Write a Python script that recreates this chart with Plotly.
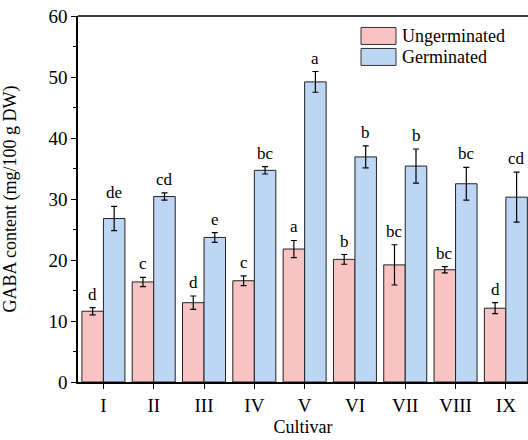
import plotly.graph_objects as go

cultivars = ["I", "II", "III", "IV", "V", "VI", "VII", "VIII", "IX"]
ungerminated = [11.6, 16.4, 13.0, 16.6, 21.8, 20.1, 19.2, 18.4, 12.1]
ungerminated_err = [0.6, 0.75, 1.1, 0.8, 1.4, 0.8, 3.3, 0.5, 0.9]
ungerminated_letters = ["d", "c", "d", "c", "a", "b", "bc", "bc", "d"]
germinated = [26.8, 30.4, 23.7, 34.7, 49.2, 36.9, 35.4, 32.5, 30.3]
germinated_err = [2.0, 0.6, 0.8, 0.6, 1.7, 1.8, 2.8, 2.7, 4.1]
germinated_letters = ["de", "cd", "e", "bc", "a", "b", "b", "bc", "cd"]
y_ticks = [0, 10, 20, 30, 40, 50, 60]

PINK = "#F9C3C3"
BLUE = "#BCD6F4"
FONT = "Liberation Serif"

fig = go.Figure()
fig.add_trace(go.Bar(
    x=cultivars, y=ungerminated, name="Ungerminated",
    marker=dict(color=PINK, line=dict(color="#222222", width=1)),
    error_y=dict(type="data", array=ungerminated_err, color="black", thickness=1.2, width=3),
    showlegend=False,
))
fig.add_trace(go.Bar(
    x=cultivars, y=germinated, name="Germinated",
    marker=dict(color=BLUE, line=dict(color="#222222", width=1)),
    error_y=dict(type="data", array=germinated_err, color="black", thickness=1.2, width=3),
    showlegend=False,
))

annotations = []
offset = 0.2137
for i, c in enumerate(cultivars):
    annotations.append(dict(
        x=i - offset, y=ungerminated[i] + ungerminated_err[i], xref="x", yref="y",
        text=ungerminated_letters[i], showarrow=False, yanchor="bottom", yshift=2,
        font=dict(family=FONT, size=17, color="black"),
    ))
    annotations.append(dict(
        x=i + offset, y=germinated[i] + germinated_err[i], xref="x", yref="y",
        text=germinated_letters[i], showarrow=False, yanchor="bottom", yshift=2,
        font=dict(family=FONT, size=17, color="black"),
    ))

W, H = 528, 440
ml, mr, mt, mb = 78, 0, 15.5, 440 - 382
pw, ph = W - ml - mr, H - mt - mb

def px_to_paper(px, py):
    return (px - ml) / pw, 1 - (py - mt) / ph

# custom legend (boxes + labels in paper coordinates)
legend_items = [("Ungerminated", PINK), ("Germinated", BLUE)]
shapes = [dict(type="line", xref="paper", yref="paper", x0=0, x1=1, y0=1, y1=1,
               line=dict(color="black", width=1.5))]
for k, (label, col) in enumerate(legend_items):
    top = 27 + k * 21
    x0, y0 = px_to_paper(361, top)
    x1, y1 = px_to_paper(396, top + 17)
    shapes.append(dict(type="rect", xref="paper", yref="paper", x0=x0, y0=y1, x1=x1, y1=y0,
                       fillcolor=col, line=dict(color="#333333", width=1)))
    tx, ty = px_to_paper(400, top + 8.5)
    annotations.append(dict(x=tx, y=ty, xref="paper", yref="paper", text=label, showarrow=False,
                            xanchor="left", yanchor="middle",
                            font=dict(family=FONT, size=18, color="black")))

fig.update_layout(
    width=W, height=H,
    margin=dict(l=ml, r=mr, t=mt, b=mb, autoexpand=False),
    paper_bgcolor="white", plot_bgcolor="white",
    barmode="group", bargap=0.145, bargroupgap=0,
    font=dict(family=FONT, size=18, color="black"),
    annotations=annotations, shapes=shapes,
    showlegend=False,
)
fig.update_xaxes(
    range=[-0.505, 8.44], showline=True, linecolor="black", linewidth=1.5,
    ticks="outside", ticklen=5, tickwidth=1.2, tickcolor="black",
    tickfont=dict(family=FONT, size=19),
    title=dict(text="Cultivar", font=dict(family=FONT, size=18), standoff=6),
    showgrid=False,
)
fig.update_yaxes(
    range=[0, 60], tickvals=y_ticks, showline=True, linecolor="black", linewidth=1.5,
    ticks="outside", ticklen=5, tickwidth=1.2, tickcolor="black",
    minor=dict(ticks="outside", ticklen=3, tickcolor="black", dtick=5, tickwidth=1),
    tickfont=dict(family=FONT, size=19), ticklabeloverflow="allow",
    title=dict(text="GABA content (mg/100 g DW)", font=dict(family=FONT, size=18), standoff=27),
    showgrid=False, zeroline=False,
)

fig.write_html(
    "out.html",
    config={"displayModeBar": False},
    post_script="document.body.style.margin='0px';document.body.style.overflow='hidden';",
)
